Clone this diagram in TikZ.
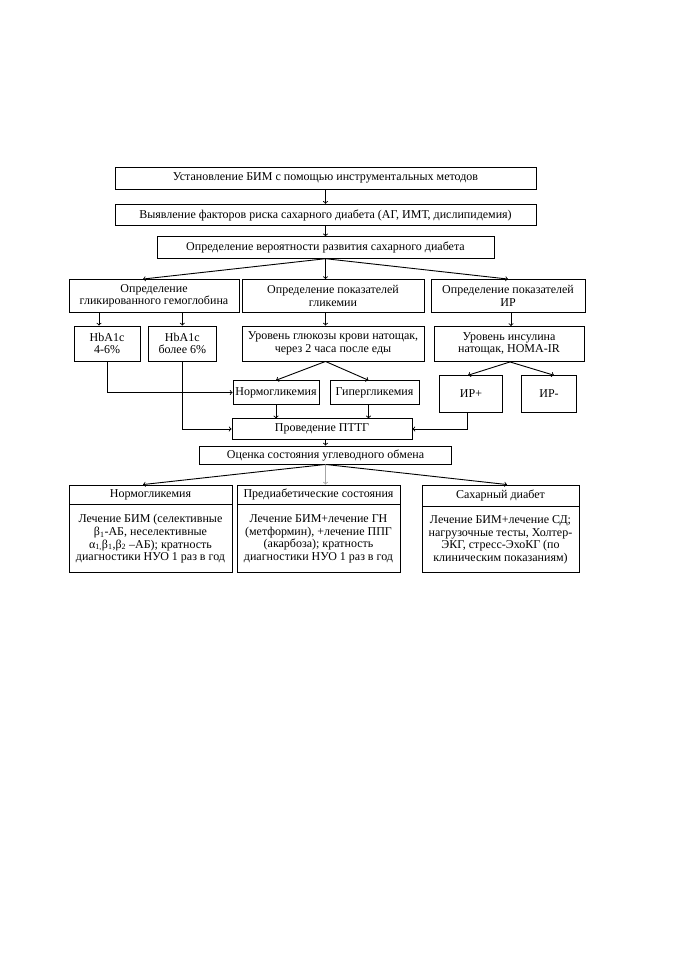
\documentclass[tikz,border=0pt]{standalone}
\usepackage{fontspec}
\setmainfont{Liberation Serif}
\begin{document}
\begin{tikzpicture}[x=1pt, y=-1pt,
    font=\fontsize{12}{12.6}\selectfont,
    box/.style={draw, line width=0.9pt, align=center, inner sep=1pt},
    arr/.style={->, line width=0.9pt}
  ]
  \useasboundingbox (0,0) rectangle (678,960);
  \coordinate (ax) at (325.5,0);
  \node[box, minimum width=421, minimum height=22] (ustan) at (325.5,178) {Установление БИМ с помощью инструментальных методов};
  \node[box, minimum width=421, minimum height=21.5] (vyyav) at (325.5,215) {Выявление факторов риска сахарного диабета (АГ, ИМТ, дислипидемия)};
  \node[box, minimum width=337, minimum height=21.5] (veroyat) at (325.5,247.5) {Определение вероятности развития сахарного диабета};
  \node[box, minimum width=170, minimum height=33] (glik) at (154,296) {Определение\\гликированного гемоглобина};
  \node[box, minimum width=182, minimum height=33] (pokaz) at (333,296) {Определение показателей\\гликемии};
  \node[box, minimum width=154, minimum height=33] (ir) at (508,296) {Определение показателей\\ИР};
  \node[box, minimum width=66, minimum height=35] (hbaa) at (107,343.5) {HbA1c\\4-6\%};
  \node[box, minimum width=67.4, minimum height=35] (hbab) at (182.3,343.5) {HbA1c\\более 6\%};
  \node[box, minimum width=182, minimum height=35] (urgl) at (333,343.5) {Уровень глюкозы крови натощак,\\через 2 часа после еды};
  \node[box, minimum width=150, minimum height=35] (urins) at (509,344) {Уровень инсулина\\натощак, HOMA-IR};
  \node[box, minimum width=86, minimum height=23.6] (normo) at (276,392.5) {Нормогликемия};
  \node[box, minimum width=89, minimum height=23.6] (giper) at (374.5,392.5) {Гипергликемия};
  \node[box, minimum width=63, minimum height=36.6] (irp) at (471,394) {ИР+};
  \node[box, minimum width=55, minimum height=36.6] (irm) at (549,394) {ИР-};
  \node[box, minimum width=180, minimum height=20.3] (pttg) at (322,429) {Проведение ПТТГ};
  \node[box, minimum width=252.7, minimum height=18] (ocenka) at (325.5,455) {Оценка состояния углеводного обмена};
  \node[box, minimum width=163, minimum height=19] (nhead) at (150.5,494.5) {Нормогликемия};
  \node[box, minimum width=163, minimum height=68, anchor=north] (nbody) at (nhead.south) {Лечение БИМ (селективные\\β\textsubscript{1}-АБ, неселективные\\α\textsubscript{1,}β\textsubscript{1},β\textsubscript{2} –АБ); кратность\\диагностики НУО 1 раз в год};
  \node[box, minimum width=163, minimum height=19] (phead) at (318.5,494.5) {Предиабетические состояния};
  \node[box, minimum width=163, minimum height=68, anchor=north] (pbody) at (phead.south) {Лечение БИМ+лечение ГН\\(метформин), +лечение ППГ\\(акарбоза); кратность\\диагностики НУО 1 раз в год};
  \node[box, minimum width=157, minimum height=21] (shead) at (500.5,495.5) {Сахарный диабет};
  \node[box, minimum width=157, minimum height=66, anchor=north] (sbody) at (shead.south) {Лечение БИМ+лечение СД;\\нагрузочные тесты, Холтер-\\ЭКГ, стресс-ЭхоКГ (по\\клиническим показаниям)};

  \draw[arr] (ustan) -- (vyyav);
  \draw[arr] (vyyav) -- (veroyat);
  \draw[arr] (veroyat.south) -- ([xshift=-11pt]glik.north);
  \draw[arr] (veroyat.south) -- (ax |- pokaz.north);
  \draw[arr] (veroyat.south) -- (ir.north);
  \draw[arr] ([xshift=-8pt]hbaa.north |- glik.south) -- ([xshift=-8pt]hbaa.north);
  \draw[arr] (hbab.north |- glik.south) -- (hbab.north);
  \draw[arr] (ax |- pokaz.south) -- (ax |- urgl.north);
  \draw[arr] ([xshift=2pt]urins.north |- ir.south) -- ([xshift=2pt]urins.north);
  \draw[arr] (ax |- urgl.south) -- (normo.north);
  \draw[arr] (ax |- urgl.south) -- ([xshift=-6pt]giper.north);
  \draw[arr] ([xshift=1pt]urins.south) -- ([xshift=-3pt]irp.north);
  \draw[arr] ([xshift=1pt]urins.south) -- ([xshift=5pt]irm.north);
  \draw[arr] (hbaa.south) |- (normo.west);
  \draw[arr] (hbab.south) |- (pttg.west);
  \draw[arr] (normo.south) -- (normo.south |- pttg.north);
  \draw[arr] ([xshift=-6pt]giper.south) -- ([xshift=-6pt]giper.south |- pttg.north);
  \draw[arr] ([xshift=-4pt]irp.south) |- (pttg.east);
  \draw[arr] (ax |- pttg.south) -- (ax |- ocenka.north);
  \draw[arr] (ocenka.south) -- ([xshift=-7.5pt]nhead.north);
  \draw[arr, gray!70] (ocenka.south) -- (ax |- phead.north);
  \draw[arr] (ocenka.south) -- ([xshift=6.5pt]shead.north);
\end{tikzpicture}
\end{document}
